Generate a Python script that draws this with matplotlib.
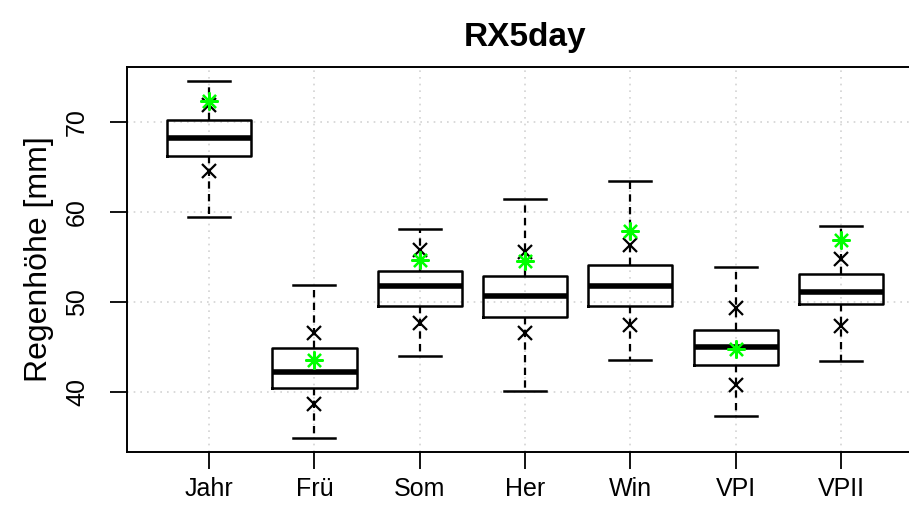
import matplotlib
matplotlib.use("Agg")
import matplotlib.pyplot as plt

plt.rcParams['font.family'] = ['Liberation Sans', 'DejaVu Sans']

# Boxplot statistics (mm)
labels = ["Jahr", "Frü", "Som", "Her", "Win", "VPI", "VPII"]
whis_lo = [59.4, 34.9, 44.0, 40.1, 43.5, 37.3, 43.4]
q1 = [66.2, 40.4, 49.5, 48.3, 49.6, 43.0, 49.8]
med = [68.2, 42.2, 51.8, 50.7, 51.8, 45.0, 51.1]
q3 = [70.2, 44.9, 53.4, 52.9, 54.1, 46.9, 53.1]
whis_hi = [74.5, 51.9, 58.1, 61.4, 63.4, 53.9, 58.4]
# extra markers: black crosses (low / high) and green asterisks
cross_lo = [64.5, 38.7, 47.7, 46.5, 47.4, 40.8, 47.3]
cross_hi = [71.9, 46.6, 55.8, 55.6, 56.3, 49.3, 54.8]
green = [72.3, 43.6, 54.7, 54.5, 57.9, 44.8, 56.9]

yticks = [40, 50, 60, 70]

fig = plt.figure(figsize=(9.09, 5.19), dpi=100)
ax = fig.add_axes([0.1397, 0.1291, 0.8758, 0.7418])

pos = list(range(1, len(labels) + 1))

# dotted grid below everything
for p in pos:
    ax.axvline(p, color="#D3D3D3", lw=1.2, ls=(0, (1, 3)), zorder=0)
for t in yticks:
    ax.axhline(t, color="#D3D3D3", lw=1.2, ls=(0, (1, 3)), zorder=0)

stats = []
for i in range(len(labels)):
    stats.append(dict(med=med[i], q1=q1[i], q3=q3[i],
                      whislo=whis_lo[i], whishi=whis_hi[i], fliers=[]))

ax.bxp(stats, positions=pos, widths=0.8, showfliers=False,
       boxprops=dict(color="black", lw=1.8),
       medianprops=dict(color="black", lw=4.0, solid_capstyle="butt"),
       whiskerprops=dict(color="black", lw=1.6, ls=(0, (3.3, 2.4))),
       capprops=dict(color="black", lw=1.8),
       capwidths=0.4)

ax.plot(pos, cross_lo, ls="none", marker="x", ms=10, mew=1.6, color="black", zorder=4)
ax.plot(pos, cross_hi, ls="none", marker="x", ms=10, mew=1.6, color="black", zorder=4)
ax.plot(pos, green, ls="none", marker=(8, 2, 0), ms=13, mew=1.6, color="#00FF00", zorder=5)

ax.set_xlim(0.22, 7.78)
ax.set_ylim(33.33, 76.11)
ax.set_xticks(pos)
ax.set_xticklabels(labels, fontsize=18)
ax.set_yticks(yticks)
ax.set_yticklabels([str(t) for t in yticks], fontsize=18, rotation=90, va="center")
ax.tick_params(axis="both", length=12.2, width=1.3, color="black")
ax.tick_params(axis="x", pad=6)
ax.tick_params(axis="y", pad=15)
for s in ax.spines.values():
    s.set_linewidth(1.4)

ax.set_ylabel("Regenhöhe [mm]", fontsize=23, labelpad=8)
ax.set_title("RX5day", fontsize=24, fontweight="bold", pad=15)

fig.savefig("out.png", dpi=100)
